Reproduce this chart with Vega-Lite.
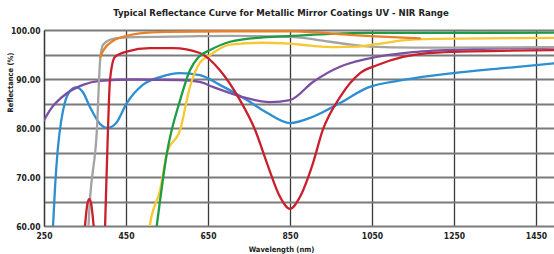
{
  "$schema": "https://vega.github.io/schema/vega-lite/v6.json",
  "autosize": {"type": "none"},
  "width": 510,
  "height": 196,
  "padding": {"left": 44, "top": 30, "right": 0, "bottom": 28},
  "background": "white",
  "title": {
    "text": "Typical Reflectance Curve for Metallic Mirror Coatings UV - NIR Range",
    "font": "DejaVu Sans Condensed, sans-serif",
    "fontSize": 9.5,
    "fontWeight": "bold",
    "color": "#222",
    "anchor": "middle",
    "dx": -18,
    "offset": 9
  },
  "config": {
    "view": {"stroke": null},
    "axis": {
      "labelFont": "DejaVu Sans Condensed, sans-serif",
      "titleFont": "DejaVu Sans Condensed, sans-serif",
      "labelColor": "#222",
      "titleColor": "#222"
    }
  },
  "data": {
    "values": [
      {"curve": "Coating 1", "part": "main", "wl": 268, "R": 55},
      {"curve": "Coating 1", "part": "main", "wl": 272, "R": 60},
      {"curve": "Coating 1", "part": "main", "wl": 277, "R": 68},
      {"curve": "Coating 1", "part": "main", "wl": 284, "R": 76},
      {"curve": "Coating 1", "part": "main", "wl": 292, "R": 81.5},
      {"curve": "Coating 1", "part": "main", "wl": 301, "R": 85.2},
      {"curve": "Coating 1", "part": "main", "wl": 313, "R": 87.5},
      {"curve": "Coating 1", "part": "main", "wl": 328, "R": 88.3},
      {"curve": "Coating 1", "part": "main", "wl": 345, "R": 87.3},
      {"curve": "Coating 1", "part": "main", "wl": 362, "R": 84.3},
      {"curve": "Coating 1", "part": "main", "wl": 387, "R": 80.8},
      {"curve": "Coating 1", "part": "main", "wl": 405, "R": 80.0},
      {"curve": "Coating 1", "part": "main", "wl": 425, "R": 80.9},
      {"curve": "Coating 1", "part": "main", "wl": 452, "R": 85.1},
      {"curve": "Coating 1", "part": "main", "wl": 491, "R": 88.8},
      {"curve": "Coating 1", "part": "main", "wl": 533, "R": 90.4},
      {"curve": "Coating 1", "part": "main", "wl": 582, "R": 91.2},
      {"curve": "Coating 1", "part": "main", "wl": 630, "R": 90.8},
      {"curve": "Coating 1", "part": "main", "wl": 679, "R": 88.8},
      {"curve": "Coating 1", "part": "main", "wl": 745, "R": 85.7},
      {"curve": "Coating 1", "part": "main", "wl": 794, "R": 83.1},
      {"curve": "Coating 1", "part": "main", "wl": 850, "R": 81.0},
      {"curve": "Coating 1", "part": "main", "wl": 906, "R": 82.3},
      {"curve": "Coating 1", "part": "main", "wl": 972, "R": 85.1},
      {"curve": "Coating 1", "part": "main", "wl": 1038, "R": 88.2},
      {"curve": "Coating 1", "part": "main", "wl": 1126, "R": 89.8},
      {"curve": "Coating 1", "part": "main", "wl": 1248, "R": 91.2},
      {"curve": "Coating 1", "part": "main", "wl": 1370, "R": 92.2},
      {"curve": "Coating 1", "part": "main", "wl": 1494, "R": 93.2},

      {"curve": "Coating 2", "part": "main", "wl": 250, "R": 81.6},
      {"curve": "Coating 2", "part": "main", "wl": 265, "R": 83.7},
      {"curve": "Coating 2", "part": "main", "wl": 306, "R": 87.1},
      {"curve": "Coating 2", "part": "main", "wl": 345, "R": 88.8},
      {"curve": "Coating 2", "part": "main", "wl": 387, "R": 89.6},
      {"curve": "Coating 2", "part": "main", "wl": 467, "R": 89.9},
      {"curve": "Coating 2", "part": "main", "wl": 582, "R": 89.8},
      {"curve": "Coating 2", "part": "main", "wl": 630, "R": 89.4},
      {"curve": "Coating 2", "part": "main", "wl": 662, "R": 88.4},
      {"curve": "Coating 2", "part": "main", "wl": 745, "R": 86.1},
      {"curve": "Coating 2", "part": "main", "wl": 801, "R": 85.3},
      {"curve": "Coating 2", "part": "main", "wl": 850, "R": 85.7},
      {"curve": "Coating 2", "part": "main", "wl": 906, "R": 89.4},
      {"curve": "Coating 2", "part": "main", "wl": 972, "R": 92.5},
      {"curve": "Coating 2", "part": "main", "wl": 1038, "R": 94.1},
      {"curve": "Coating 2", "part": "main", "wl": 1150, "R": 95.5},
      {"curve": "Coating 2", "part": "main", "wl": 1300, "R": 96.1},
      {"curve": "Coating 2", "part": "main", "wl": 1494, "R": 96.4},

      {"curve": "Coating 3", "part": "main", "wl": 355, "R": 55},
      {"curve": "Coating 3", "part": "main", "wl": 362, "R": 65.3},
      {"curve": "Coating 3", "part": "main", "wl": 379, "R": 79.6},
      {"curve": "Coating 3", "part": "main", "wl": 387, "R": 93.9},
      {"curve": "Coating 3", "part": "main", "wl": 394, "R": 97.0},
      {"curve": "Coating 3", "part": "main", "wl": 418, "R": 98.2},
      {"curve": "Coating 3", "part": "main", "wl": 452, "R": 98.5},
      {"curve": "Coating 3", "part": "main", "wl": 600, "R": 98.7},
      {"curve": "Coating 3", "part": "main", "wl": 704, "R": 98.8},
      {"curve": "Coating 3", "part": "main", "wl": 850, "R": 98.6},
      {"curve": "Coating 3", "part": "main", "wl": 900, "R": 98.2},
      {"curve": "Coating 3", "part": "main", "wl": 948, "R": 97.6},
      {"curve": "Coating 3", "part": "main", "wl": 1000, "R": 97.0},
      {"curve": "Coating 3", "part": "main", "wl": 1045, "R": 96.6},
      {"curve": "Coating 3", "part": "main", "wl": 1150, "R": 96.4},
      {"curve": "Coating 3", "part": "main", "wl": 1494, "R": 96.5},

      {"curve": "Coating 4", "part": "main", "wl": 495, "R": 50},
      {"curve": "Coating 4", "part": "main", "wl": 508, "R": 60},
      {"curve": "Coating 4", "part": "main", "wl": 533, "R": 67.3},
      {"curve": "Coating 4", "part": "main", "wl": 550, "R": 74.9},
      {"curve": "Coating 4", "part": "main", "wl": 582, "R": 79.6},
      {"curve": "Coating 4", "part": "main", "wl": 606, "R": 88.4},
      {"curve": "Coating 4", "part": "main", "wl": 630, "R": 93.3},
      {"curve": "Coating 4", "part": "main", "wl": 655, "R": 94.9},
      {"curve": "Coating 4", "part": "main", "wl": 704, "R": 97.0},
      {"curve": "Coating 4", "part": "main", "wl": 780, "R": 97.4},
      {"curve": "Coating 4", "part": "main", "wl": 850, "R": 97.2},
      {"curve": "Coating 4", "part": "main", "wl": 900, "R": 96.8},
      {"curve": "Coating 4", "part": "main", "wl": 960, "R": 96.5},
      {"curve": "Coating 4", "part": "main", "wl": 1010, "R": 96.6},
      {"curve": "Coating 4", "part": "main", "wl": 1060, "R": 97.1},
      {"curve": "Coating 4", "part": "main", "wl": 1126, "R": 97.9},
      {"curve": "Coating 4", "part": "main", "wl": 1200, "R": 98.2},
      {"curve": "Coating 4", "part": "main", "wl": 1494, "R": 98.4},

      {"curve": "Coating 5", "part": "spike", "wl": 346, "R": 56},
      {"curve": "Coating 5", "part": "spike", "wl": 351, "R": 61},
      {"curve": "Coating 5", "part": "spike", "wl": 356, "R": 64.6},
      {"curve": "Coating 5", "part": "spike", "wl": 360.5, "R": 65.5},
      {"curve": "Coating 5", "part": "spike", "wl": 365, "R": 64.6},
      {"curve": "Coating 5", "part": "spike", "wl": 370, "R": 61},
      {"curve": "Coating 5", "part": "spike", "wl": 375, "R": 56},
      {"curve": "Coating 5", "part": "main", "wl": 395, "R": 50},
      {"curve": "Coating 5", "part": "main", "wl": 399, "R": 60},
      {"curve": "Coating 5", "part": "main", "wl": 406, "R": 79.6},
      {"curve": "Coating 5", "part": "main", "wl": 411, "R": 89.8},
      {"curve": "Coating 5", "part": "main", "wl": 423, "R": 94.5},
      {"curve": "Coating 5", "part": "main", "wl": 452, "R": 95.6},
      {"curve": "Coating 5", "part": "main", "wl": 508, "R": 96.3},
      {"curve": "Coating 5", "part": "main", "wl": 565, "R": 96.3},
      {"curve": "Coating 5", "part": "main", "wl": 630, "R": 95.3},
      {"curve": "Coating 5", "part": "main", "wl": 679, "R": 91.8},
      {"curve": "Coating 5", "part": "main", "wl": 728, "R": 85.7},
      {"curve": "Coating 5", "part": "main", "wl": 765, "R": 79.6},
      {"curve": "Coating 5", "part": "main", "wl": 794, "R": 72.8},
      {"curve": "Coating 5", "part": "main", "wl": 826, "R": 65.9},
      {"curve": "Coating 5", "part": "main", "wl": 850, "R": 63.5},
      {"curve": "Coating 5", "part": "main", "wl": 874, "R": 65.9},
      {"curve": "Coating 5", "part": "main", "wl": 906, "R": 72.8},
      {"curve": "Coating 5", "part": "main", "wl": 930, "R": 79.6},
      {"curve": "Coating 5", "part": "main", "wl": 972, "R": 86.3},
      {"curve": "Coating 5", "part": "main", "wl": 1021, "R": 91.2},
      {"curve": "Coating 5", "part": "main", "wl": 1062, "R": 92.8},
      {"curve": "Coating 5", "part": "main", "wl": 1126, "R": 94.5},
      {"curve": "Coating 5", "part": "main", "wl": 1209, "R": 95.4},
      {"curve": "Coating 5", "part": "main", "wl": 1494, "R": 95.9},

      {"curve": "Coating 6", "part": "main", "wl": 510, "R": 50},
      {"curve": "Coating 6", "part": "main", "wl": 525, "R": 60},
      {"curve": "Coating 6", "part": "main", "wl": 550, "R": 75},
      {"curve": "Coating 6", "part": "main", "wl": 582, "R": 85.7},
      {"curve": "Coating 6", "part": "main", "wl": 606, "R": 91.8},
      {"curve": "Coating 6", "part": "main", "wl": 626, "R": 94.4},
      {"curve": "Coating 6", "part": "main", "wl": 655, "R": 95.9},
      {"curve": "Coating 6", "part": "main", "wl": 704, "R": 97.6},
      {"curve": "Coating 6", "part": "main", "wl": 784, "R": 98.5},
      {"curve": "Coating 6", "part": "main", "wl": 857, "R": 98.8},
      {"curve": "Coating 6", "part": "main", "wl": 950, "R": 99.2},
      {"curve": "Coating 6", "part": "main", "wl": 1050, "R": 99.4},
      {"curve": "Coating 6", "part": "main", "wl": 1494, "R": 99.45},

      {"curve": "Coating 7", "part": "main", "wl": 387, "R": 94.5},
      {"curve": "Coating 7", "part": "main", "wl": 395, "R": 95.9},
      {"curve": "Coating 7", "part": "main", "wl": 419, "R": 97.8},
      {"curve": "Coating 7", "part": "main", "wl": 452, "R": 98.8},
      {"curve": "Coating 7", "part": "main", "wl": 484, "R": 99.3},
      {"curve": "Coating 7", "part": "main", "wl": 550, "R": 99.6},
      {"curve": "Coating 7", "part": "main", "wl": 700, "R": 99.75},
      {"curve": "Coating 7", "part": "main", "wl": 850, "R": 99.75},
      {"curve": "Coating 7", "part": "main", "wl": 920, "R": 99.5},
      {"curve": "Coating 7", "part": "main", "wl": 980, "R": 99.1},
      {"curve": "Coating 7", "part": "main", "wl": 1060, "R": 98.7},
      {"curve": "Coating 7", "part": "main", "wl": 1167, "R": 98.3}
    ]
  },
  "mark": {"type": "line", "interpolate": "monotone", "strokeWidth": 2.3, "clip": true, "strokeCap": "round"},
  "encoding": {
    "x": {
      "field": "wl", "type": "quantitative",
      "scale": {"domain": [250, 1494], "nice": false, "zero": false},
      "axis": {
        "values": [250, 450, 650, 850, 1050, 1250, 1450],
        "format": "d",
        "title": "Wavelength (nm)",
        "titleFontSize": 7.5,
        "titleFontWeight": "bold",
        "titleX": 237,
        "titleY": 19,
        "titleBaseline": "top",
        "titleAlign": "center",
        "labelFontSize": 8.5,
        "labelFontWeight": "bold",
        "labelPadding": 5,
        "ticks": false,
        "domain": false,
        "grid": true,
        "gridColor": "#3a3a3a",
        "gridWidth": 1.3,
        "labelFlush": false
      }
    },
    "y": {
      "field": "R", "type": "quantitative",
      "scale": {"domain": [60, 100], "nice": false, "zero": false},
      "axis": {
        "values": [60, 65, 70, 75, 80, 85, 90, 95, 100],
        "labelExpr": "datum.value % 10 === 0 ? format(datum.value, '.2f') : ''",
        "title": "Reflectance (%)",
        "titleFontSize": 7.5,
        "titleFontWeight": "bold",
        "titleAngle": 270,
        "titleX": -34,
        "titleY": 52,
        "titleAlign": "center",
        "titleBaseline": "middle",
        "labelFontSize": 8.5,
        "labelFontWeight": "bold",
        "labelPadding": 4,
        "ticks": false,
        "domain": true,
        "domainColor": "#3a3a3a",
        "domainWidth": 1.3,
        "grid": true,
        "gridColor": "#7a7a7a",
        "gridWidth": 1.8,
        "labelFlush": false
      }
    },
    "color": {
      "field": "curve", "type": "nominal", "legend": null,
      "scale": {
        "domain": ["Coating 1", "Coating 2", "Coating 3", "Coating 4", "Coating 5", "Coating 6", "Coating 7"],
        "range": ["#2d8fd1", "#7c4ea4", "#a3a3a3", "#f6c833", "#c9202c", "#1f9a45", "#e8822a"]
      }
    },
    "detail": {"field": "part", "type": "nominal"}
  }
}
